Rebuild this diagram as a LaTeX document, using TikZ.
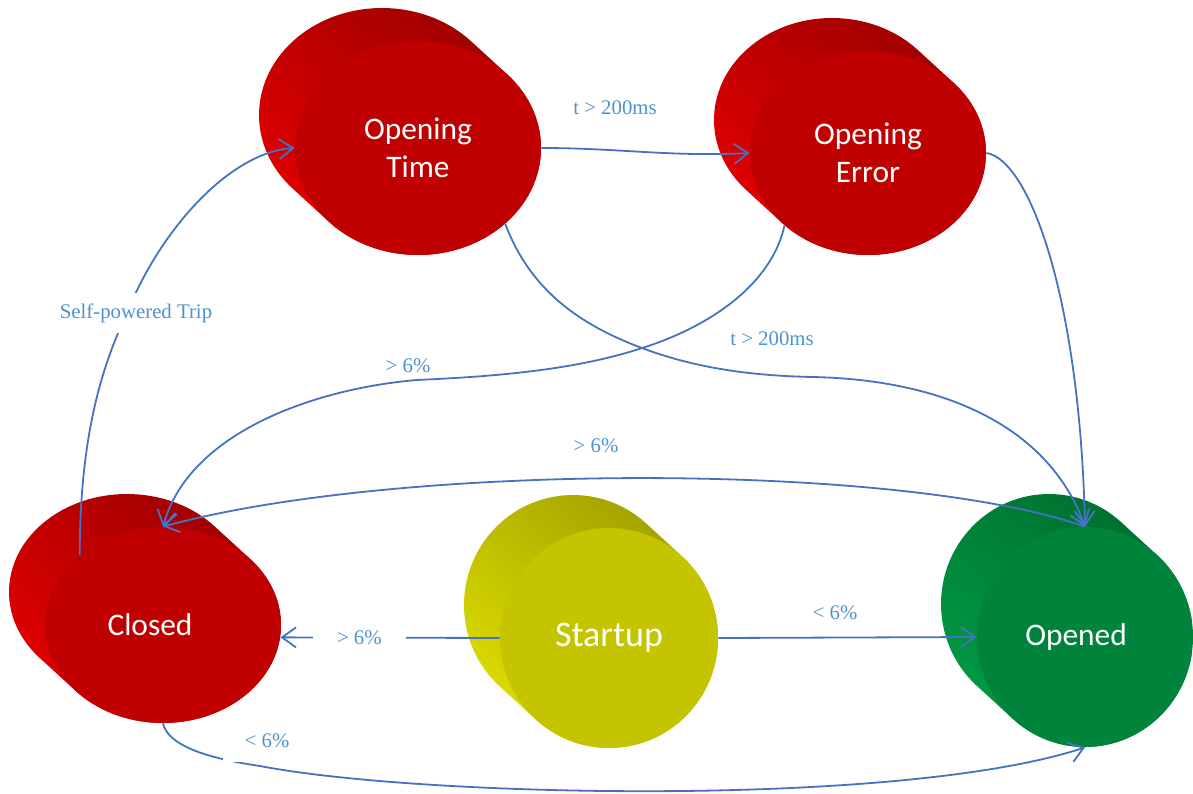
\documentclass[tikz,border=0pt]{standalone}
\usepackage{fontspec}
\setmainfont{Liberation Serif}
\newfontfamily\nodefont{Carlito}
\usetikzlibrary{arrows.meta,shapes.geometric}
\definecolor{lineblue}{RGB}{70,114,196}
\definecolor{lblblue}{RGB}{78,146,208}
\definecolor{redfront}{RGB}{192,0,0}
\definecolor{redlight}{RGB}{230,0,0}
\definecolor{reddark}{RGB}{155,0,0}
\definecolor{yelfront}{RGB}{196,196,0}
\definecolor{yellight}{RGB}{224,224,0}
\definecolor{yeldark}{RGB}{158,158,0}
\definecolor{grnfront}{RGB}{0,132,60}
\definecolor{grnlight}{RGB}{0,156,68}
\definecolor{grndark}{RGB}{0,108,46}
\tikzset{
  state/.style={ellipse, inner sep=0pt, text=white, align=center},
  conn/.style={draw=lineblue, line width=0.9pt, -{Straight Barb[length=7pt,width=10pt]}},
  lbl/.style={text=lblblue, font=\fontsize{10.4}{12}\selectfont},
  gaplbl/.style={lbl, fill=white},
}
% #1 name, #2 cx, #3 cy, #4 rx, #5 ry, #6 colour prefix, #7 font size, #8 text
\newcommand{\cylnode}[8]{%
  \pgfmathsetmacro{\tA}{atan2(36*#5,-33*#4)}%
  \pgfmathsetmacro{\tB}{\tA+180}%
  \pgfmathsetmacro{\tC}{\tA+360}%
  \pgfmathsetmacro{\ax}{#2-36+#4*cos(\tA)}%
  \pgfmathsetmacro{\ay}{#3-33+#5*sin(\tA)}%
  \pgfmathsetmacro{\bx}{#2+#4*cos(\tB)}%
  \pgfmathsetmacro{\by}{#3+#5*sin(\tB)}%
  \shade[top color=#6dark, bottom color=#6light, shading angle=-40]
    (\ax,\ay) arc[start angle=\tA, end angle=\tB, x radius=#4, y radius=#5]
    -- (\bx,\by) arc[start angle=\tB, end angle=\tC, x radius=#4, y radius=#5] -- cycle;
  \node[state, fill=#6front, minimum width=#4pt, minimum height=#5pt,
        font=\nodefont\fontsize{#7}{19}\selectfont] (#1) at (#2,#3) {#8};
}
\begin{document}
\begin{tikzpicture}[x=0.5pt,y=-0.5pt]
\fill[white] (0,0) rectangle (1193,793);
\useasboundingbox (0,0) rectangle (1193,793);

\cylnode{ot}{418}{148}{123}{107}{red}{15.7}{Opening\\Time}
\cylnode{oe}{868}{153}{118}{102}{red}{15.7}{Opening\\Error}
\cylnode{cl}{163}{625}{118}{98}{red}{15.7}{\hspace*{-13pt}Closed}
\cylnode{st}{609}{638}{109}{110}{yel}{18}{Startup}
\cylnode{op}{1085}{637}{108}{110}{grn}{15.7}{\hspace*{-9pt}Opened}

% Closed -> Opening Time
\draw[conn] (cl.140) .. controls (80,440) and (100,370) .. (127,313)
  node[gaplbl, inner xsep=2pt, inner ysep=5pt, xshift=4.5pt] (lsp) {Self-powered Trip}
  .. controls (160,230) and (230,152) .. (ot.180);

% Opening Time -> Opening Error
\draw[conn] (ot.0) .. controls (620,148) and (670,157) .. (oe.180);
\node[lbl] (l1) at (615,108) {t > 200ms};

% Opening Time -> Opened
\draw[conn] (ot.-41) .. controls (530,290) and (580,325) .. (642,348)
  .. controls (700,370) and (760,376) .. (813,377)
  .. controls (950,380) and (1050,430) .. (op.90);
\node[lbl] (l2) at (772,339) {t > 200ms};

% Opening Error -> Closed
\draw[conn] (oe.-139) .. controls (770,290) and (700,330) .. (642,348)
  .. controls (570,372) and (480,377) .. (417,380)
  .. controls (320,388) and (190,430) .. (cl.90);
\node[lbl] (l3) at (408,366) {> 6\%};

% Opening Error -> Opened
\draw[conn] (oe.0) .. controls (1030,160) and (1080,300) .. (op.90);

% Opened -> Closed
\draw[conn] (op.90) .. controls (900,462) and (400,462) .. (cl.90);
\node[lbl] (l4) at (596,446) {> 6\%};

% Startup -> Closed
\draw[conn] (st.180) -- node[gaplbl, pos=0.64, inner xsep=12pt, inner ysep=1pt] (l5) {> 6\%} (cl.-6);

% Startup -> Opened
\draw[conn] (st.0) -- (op.180);
\node[lbl] (l6) at (835,613) {< 6\%};

% Closed -> Opened
\draw[conn] (cl.-90) .. controls (168,745) and (205,758) .. (260,766)
  .. controls (420,797) and (900,808) .. (op.-90);
\node[gaplbl, inner xsep=11pt, inner ysep=7pt] (l7) at (267,741) {< 6\%};
\end{tikzpicture}
\end{document}
